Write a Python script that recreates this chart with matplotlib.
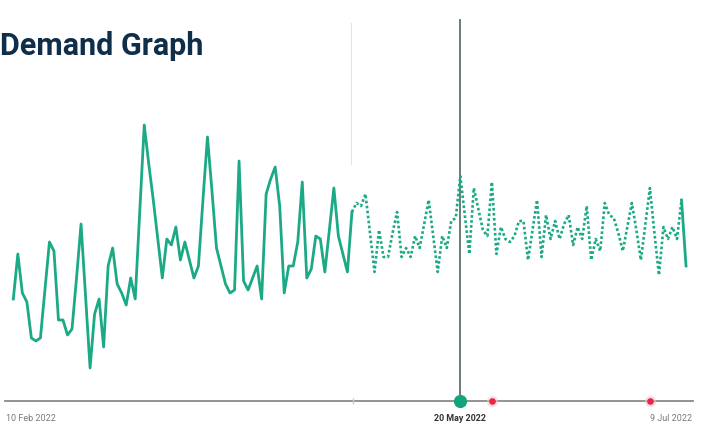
import numpy as np
import pandas as pd
import matplotlib
matplotlib.use("Agg")
import matplotlib.pyplot as plt

# daily demand, 10 Feb 2022 .. 9 Jul 2022
start_date = "2022-02-10"
demand = [
    34, 49, 36, 33, 21, 20, 21, 37, 53, 50,
    27, 27, 22, 24, 41, 59, 35, 11, 29, 34,
    18, 45, 51, 39, 36, 32, 41, 34, 63, 92,
    79, 67, 54, 41, 54, 52, 58, 47, 53, 47,
    41, 45, 67, 88, 70, 51, 45, 39, 36, 37,
    80, 40, 37, 41, 45, 34, 69, 74, 78, 65,
    36, 45, 45, 53, 73, 41, 44, 55, 54, 43,
    57, 71, 55, 49, 43, 63, 66, 65, 69, 56,
    43, 57, 48, 48, 56, 63, 48, 51, 48, 55,
    51, 59, 67, 55, 43, 55, 51, 60, 61, 75,
    62, 49, 71, 64, 57, 55, 73, 49, 58, 54,
    53, 55, 60, 60, 47, 57, 67, 48, 62, 54,
    60, 54, 59, 62, 52, 58, 54, 65, 47, 54,
    50, 66, 62, 61, 56, 50, 58, 66, 57, 47,
    59, 71, 56, 42, 58, 54, 58, 54, 67, 45,
]
forecast_start = 75   # index where the dotted (forecast) part begins
forecast_end = 148    # last dotted point, final segment is solid again
selected_date = "2022-05-20"
alert_dates = ["2022-05-27", "2022-07-01"]
tick_dates = ["2022-02-10", "2022-05-20", "2022-07-09"]
tick_labels = ["10 Feb 2022", "20 May 2022", "9 Jul 2022"]
title = "Demand Graph"

GREEN = "#1ba986"
days = pd.date_range(start_date, periods=len(demand), freq="D")
t0 = days[0]


def dnum(d):
    return (pd.Timestamp(d) - t0).days


x = np.array([dnum(d) for d in days], dtype=float)
y = np.array(demand, dtype=float)

fig = plt.figure(figsize=(7.04, 4.24), dpi=100)
ax = fig.add_axes([0, 0, 1, 1])
ax.set_xlim(-2.95, 152.98)
ax.set_ylim(-7.67, 133.67)
ax.axis("off")

# baseline axis
ax.plot([-1.84, 150.5], [0, 0], color="#8a8a8a", lw=1.3, zorder=1)

# faint marker for where forecast starts
ax.plot([forecast_start - 0.2] * 2, [79, 126], color="#e3e3e3", lw=0.8, zorder=0)
ax.plot([forecast_start + 0.2], [0], marker="|", color="#c8c8c8", ms=5, zorder=2)

# actuals (solid), forecast (dotted), final point solid
ax.plot(x[:forecast_start + 1], y[:forecast_start + 1], color=GREEN, lw=2.0,
        solid_joinstyle="round", zorder=3)
ax.plot(x[forecast_start:forecast_end + 1], y[forecast_start:forecast_end + 1],
        color=GREEN, lw=1.9, linestyle=(0, (1, 0.9)), zorder=3)
ax.plot(x[forecast_end:], y[forecast_end:], color=GREEN, lw=2.0, zorder=3)

# selected day
sx = dnum(selected_date)
ax.plot([sx, sx], [0, 127], color="#6e7c78", lw=1.4, zorder=2)
ax.plot([sx], [0], marker="o", ms=9.5, color="#14a37c", mec="none", zorder=5)

for d in alert_dates:
    ax.plot([dnum(d)], [0], marker="o", ms=8, color="#f6c4cc", mec="none", alpha=0.6, zorder=4)
    ax.plot([dnum(d)], [0], marker="o", ms=4.8, color="#e8264a", mec="none", zorder=5)

# date labels
ax.text(-1.6, -5.7, tick_labels[0], fontsize=6.5, color="#7a7a7a", ha="left", va="center",
        family="Roboto")
ax.text(dnum(tick_dates[1]), -5.7, tick_labels[1], fontsize=6.4, color="#333333",
        ha="center", va="center", fontweight="bold", family="Roboto")
ax.text(150.4, -5.7, tick_labels[2], fontsize=6.5, color="#7a7a7a", ha="right", va="center",
        family="Roboto")

fig.text(0.0, 1 - 55 / 424, title, fontsize=22, fontweight="bold", color="#0f2e4a",
         ha="left", va="baseline", family="Roboto")

fig.savefig("out.png", dpi=100, facecolor="white")
